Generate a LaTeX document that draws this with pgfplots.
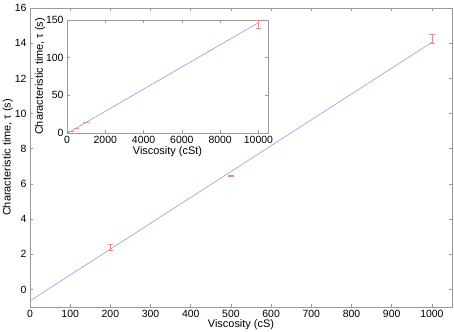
\documentclass[border=0pt]{standalone}
\usepackage{fontspec}
\setmainfont{Liberation Sans}
\usepackage{pgfplots}
\pgfplotsset{compat=1.18}
\usetikzlibrary{calc}
\definecolor{fitblue}{HTML}{8C9EE6}
\definecolor{errred}{HTML}{F28A8A}
\definecolor{axgray}{HTML}{9A9A9A}
\begin{document}
\begin{tikzpicture}
\pgfplotsset{
  mstyle/.style={
    scale only axis,
    axis line style={axgray, line width=0.8pt},
    tick style={axgray, line width=0.6pt},
    major tick length=3.5pt,
    tick align=inside,
    /pgf/number format/assume math mode=true,
    /pgf/number format/1000 sep={},
    ticklabel style={font=\fontsize{10.5}{11}\selectfont},
    label style={font=\fontsize{11}{12}\selectfont},
  },
  ebar/.style={draw=none, mark=none,
    error bars/.cd, y dir=both, y explicit,
    error bar style={draw=errred, line width=0.6pt},
    error mark options={draw=errred, rotate=90, mark size=2.8pt, line width=0.6pt}},
}
\begin{axis}[mstyle, name=main,
  width=422bp, height=299bp,
  xmin=0, xmax=1050, ymin=-1, ymax=16,
  xtick={0,100,...,1000}, ytick={0,2,...,16},
  xlabel={Viscosity (cS)}, ylabel={Characteristic time, τ (s)},
  xlabel style={yshift=5pt}, ylabel style={yshift=-5pt},
]
\addplot[fitblue, line width=0.6pt] coordinates {(0,-0.65) (1000,14.05)};
\addplot[ebar] coordinates {
  (200,2.40) +- (0,0.16)
  (500,6.45) +- (0,0.03)
  (1000,14.25) +- (0,0.28)
};
\end{axis}
\begin{axis}[mstyle, name=inset,
  at={($(main.south west)+(37bp,174bp)$)}, anchor=south west,
  width=201bp, height=113bp,
  axis background/.style={fill=white},
  xmin=0, xmax=10500, ymin=0, ymax=150,
  xtick={0,2000,...,10000}, ytick={0,50,100,150},
  scaled x ticks=false,
  xlabel={Viscosity (cSt)}, ylabel={Characteristic time, τ (s)},
  xlabel style={yshift=4pt}, ylabel style={yshift=-6pt},
]
\addplot[fitblue, line width=0.6pt] coordinates {(0,-0.65) (10000,146.4)};
\addplot[ebar] coordinates {
  (200,2.40) +- (0,0.16)
  (500,6.45) +- (0,0.03)
  (1000,14.25) +- (0,0.28)
  (10000,144.0) +- (0,5.0)
};
\end{axis}
\pgfresetboundingbox
\path[use as bounding box] ($(main.south west)+(-30bp,-25bp)$) rectangle ($(main.north east)+(2bp,8bp)$);
\end{tikzpicture}
\end{document}
